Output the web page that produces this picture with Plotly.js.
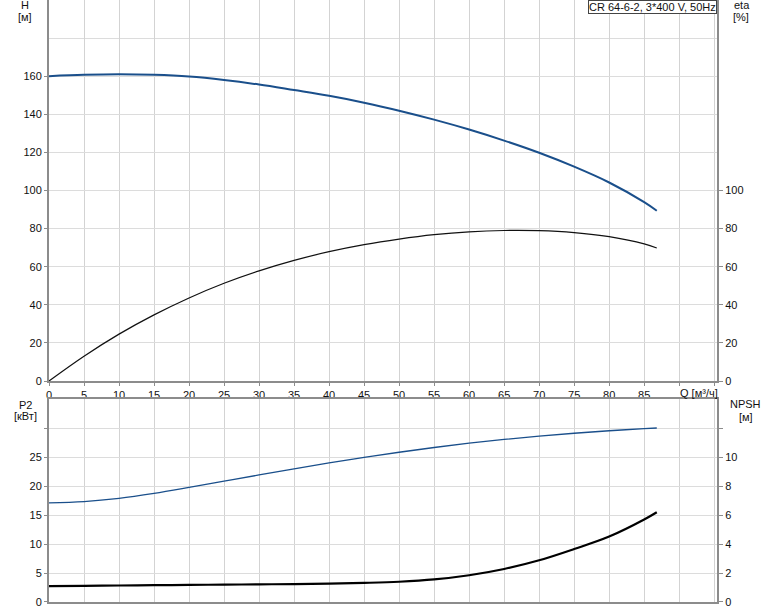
<!DOCTYPE html>
<html>
<head>
<meta charset="utf-8">
<script src="https://cdn.plot.ly/plotly-3.0.1.min.js"></script>
<style>html,body{margin:0;padding:0;background:#fff;}#chart{width:774px;height:611px;}</style>
</head>
<body>
<div id="chart"></div>
<script>
// Flow Q [m3/h]
var Q = [0, 5, 10, 15, 20, 25, 30, 35, 40, 45, 50, 55, 60, 65, 70, 75, 80, 85, 86.8];
// Head H [m]
var H = [160, 160.7, 161.0, 160.7, 159.8, 158.0, 155.6, 152.7, 149.7, 146.1, 141.9, 137.2, 132.0, 126.2, 119.8, 112.5, 104.2, 93.9, 89.4];
// Efficiency eta [%]
var ETA = [0, 13.0, 24.6, 34.7, 43.6, 51.3, 57.8, 63.3, 67.9, 71.6, 74.5, 76.8, 78.3, 79.0, 78.9, 77.9, 75.8, 72.0, 69.8];
// Power P2 [kW]
var P2 = [17.13, 17.35, 17.9, 18.75, 19.78, 20.86, 21.94, 23.0, 24.02, 24.98, 25.86, 26.68, 27.42, 28.07, 28.64, 29.14, 29.57, 29.93, 30.05];
// NPSH [m]
var NPSH = [1.10, 1.12, 1.14, 1.16, 1.18, 1.20, 1.22, 1.24, 1.27, 1.32, 1.40, 1.56, 1.85, 2.28, 2.88, 3.66, 4.52, 5.70, 6.20];

var xTicks = [0,5,10,15,20,25,30,35,40,45,50,55,60,65,70,75,80,85,90,95];
var xTickText = ['0','5','10','15','20','25','30','35','40','45','50','55','60','65','70','75','80','85','',''];
var hTicks = [0,20,40,60,80,100,120,140,160];
var etaTicks = [0,20,40,60,80,100];
var p2Ticks = [0,5,10,15,20,25,30];
var p2Text = ['0','5','10','15','20','25',''];
var npshTicks = [0,2,4,6,8,10,12];
var npshText = ['0','2','4','6','8','10',''];
var title = 'CR 64-6-2, 3*400 V, 50Hz';

var BLUE = '#1a4f8b';
var FONT = {family: 'Liberation Sans, Arial, sans-serif', size: 11, color: '#111'};
var LINEC = '#8c8c8c';

var traces = [
  {x: Q, y: H, xaxis: 'x', yaxis: 'y', mode: 'lines', line: {color: BLUE, width: 2, shape: 'spline', smoothing: 1}, hoverinfo: 'skip'},
  {x: Q, y: ETA, xaxis: 'x', yaxis: 'y2', mode: 'lines', line: {color: '#111', width: 1.2, shape: 'spline', smoothing: 1}, hoverinfo: 'skip'},
  {x: Q, y: P2, xaxis: 'x2', yaxis: 'y3', mode: 'lines', line: {color: BLUE, width: 1.3, shape: 'spline', smoothing: 1}, hoverinfo: 'skip'},
  {x: Q, y: NPSH, xaxis: 'x2', yaxis: 'y4', mode: 'lines', line: {color: '#000', width: 2.2, shape: 'spline', smoothing: 1}, hoverinfo: 'skip'}
];

var xCommon = {
  range: [0, 95.4], tickmode: 'array', tickvals: xTicks,
  showline: true, linecolor: LINEC, linewidth: 2,
  showgrid: true, gridcolor: '#d3d3d3', gridwidth: 1,
  zeroline: false, tickfont: FONT, fixedrange: true
};

var layout = {
  width: 774, height: 611,
  margin: {l: 49, r: 57, t: 0, b: 9},
  paper_bgcolor: '#fff', plot_bgcolor: '#fff',
  showlegend: false,
  font: FONT,
  xaxis: Object.assign({}, xCommon, {domain: [0, 1], anchor: 'y', ticktext: xTickText, ticks: 'outside', ticklen: 3, tickcolor: LINEC}),
  yaxis: {
    domain: [0.3671, 1], range: [0, 200], tickmode: 'array', tickvals: hTicks,
    minor: {tickmode: 'array', tickvals: [180, 200], showgrid: true, gridcolor: '#dcdcdc', ticks: ''},
    showline: true, linecolor: LINEC, linewidth: 2, ticks: 'outside', ticklen: 3, tickcolor: LINEC,
    showgrid: true, gridcolor: '#dcdcdc', zeroline: false, tickfont: FONT, anchor: 'x'
  },
  yaxis2: {
    overlaying: 'y', side: 'right', anchor: 'x', range: [0, 200], tickmode: 'array', tickvals: etaTicks,
    showline: true, linecolor: LINEC, linewidth: 2, ticks: 'outside', ticklen: 4, tickcolor: LINEC,
    showgrid: false, zeroline: false, tickfont: FONT
  },
  xaxis2: Object.assign({}, xCommon, {domain: [0, 1], anchor: 'y3', showticklabels: false, ticks: '', mirror: true}),
  yaxis3: {
    domain: [0, 0.3367], range: [0, 35], tickmode: 'array', tickvals: p2Ticks, ticktext: p2Text,
    showline: true, linecolor: LINEC, linewidth: 2, ticks: 'outside', ticklen: 3, tickcolor: LINEC,
    showgrid: true, gridcolor: '#dcdcdc', zeroline: false, tickfont: FONT, anchor: 'x2'
  },
  yaxis4: {
    overlaying: 'y3', side: 'right', anchor: 'x2', range: [0, 14], tickmode: 'array', tickvals: npshTicks, ticktext: npshText,
    showline: true, linecolor: LINEC, linewidth: 2, ticks: 'outside', ticklen: 4, tickcolor: LINEC,
    showgrid: false, zeroline: false, tickfont: FONT
  },
  annotations: [
    {text: 'H', xref: 'paper', yref: 'paper', x: -0.0359, y: 0.9917, xanchor: 'center', yanchor: 'middle', showarrow: false, font: FONT},
    {text: '[м]', xref: 'paper', yref: 'paper', x: -0.0359, y: 0.9723, xanchor: 'center', yanchor: 'middle', showarrow: false, font: FONT},
    {text: 'eta', xref: 'paper', yref: 'paper', x: 1.0367, y: 0.9917, xanchor: 'center', yanchor: 'middle', showarrow: false, font: FONT},
    {text: '[%]', xref: 'paper', yref: 'paper', x: 1.0359, y: 0.9723, xanchor: 'center', yanchor: 'middle', showarrow: false, font: FONT},
    {text: 'P2', xref: 'paper', yref: 'paper', x: -0.0359, y: 0.3272, xanchor: 'center', yanchor: 'middle', showarrow: false, font: FONT},
    {text: '[кВт]', xref: 'paper', yref: 'paper', x: -0.0359, y: 0.3098, xanchor: 'center', yanchor: 'middle', showarrow: false, font: FONT},
    {text: 'NPSH', xref: 'paper', yref: 'paper', x: 1.0434, y: 0.3284, xanchor: 'center', yanchor: 'middle', showarrow: false, font: FONT},
    {text: '[м]', xref: 'paper', yref: 'paper', x: 1.0427, y: 0.3078, xanchor: 'center', yanchor: 'middle', showarrow: false, font: FONT},
    {text: 'Q [м³/ч]', xref: 'x', yref: 'paper', x: 89.83, y: 0.348, xanchor: 'left', yanchor: 'middle', showarrow: false, font: FONT},
    {text: title, xref: 'paper', yref: 'paper', x: 1, y: 1, xanchor: 'right', yanchor: 'top', showarrow: false,
     font: FONT, bgcolor: '#fff', bordercolor: '#444', borderwidth: 1, borderpad: 0}
  ]
};

Plotly.newPlot('chart', traces, layout, {staticPlot: true, displayModeBar: false});
</script>
</body>
</html>
